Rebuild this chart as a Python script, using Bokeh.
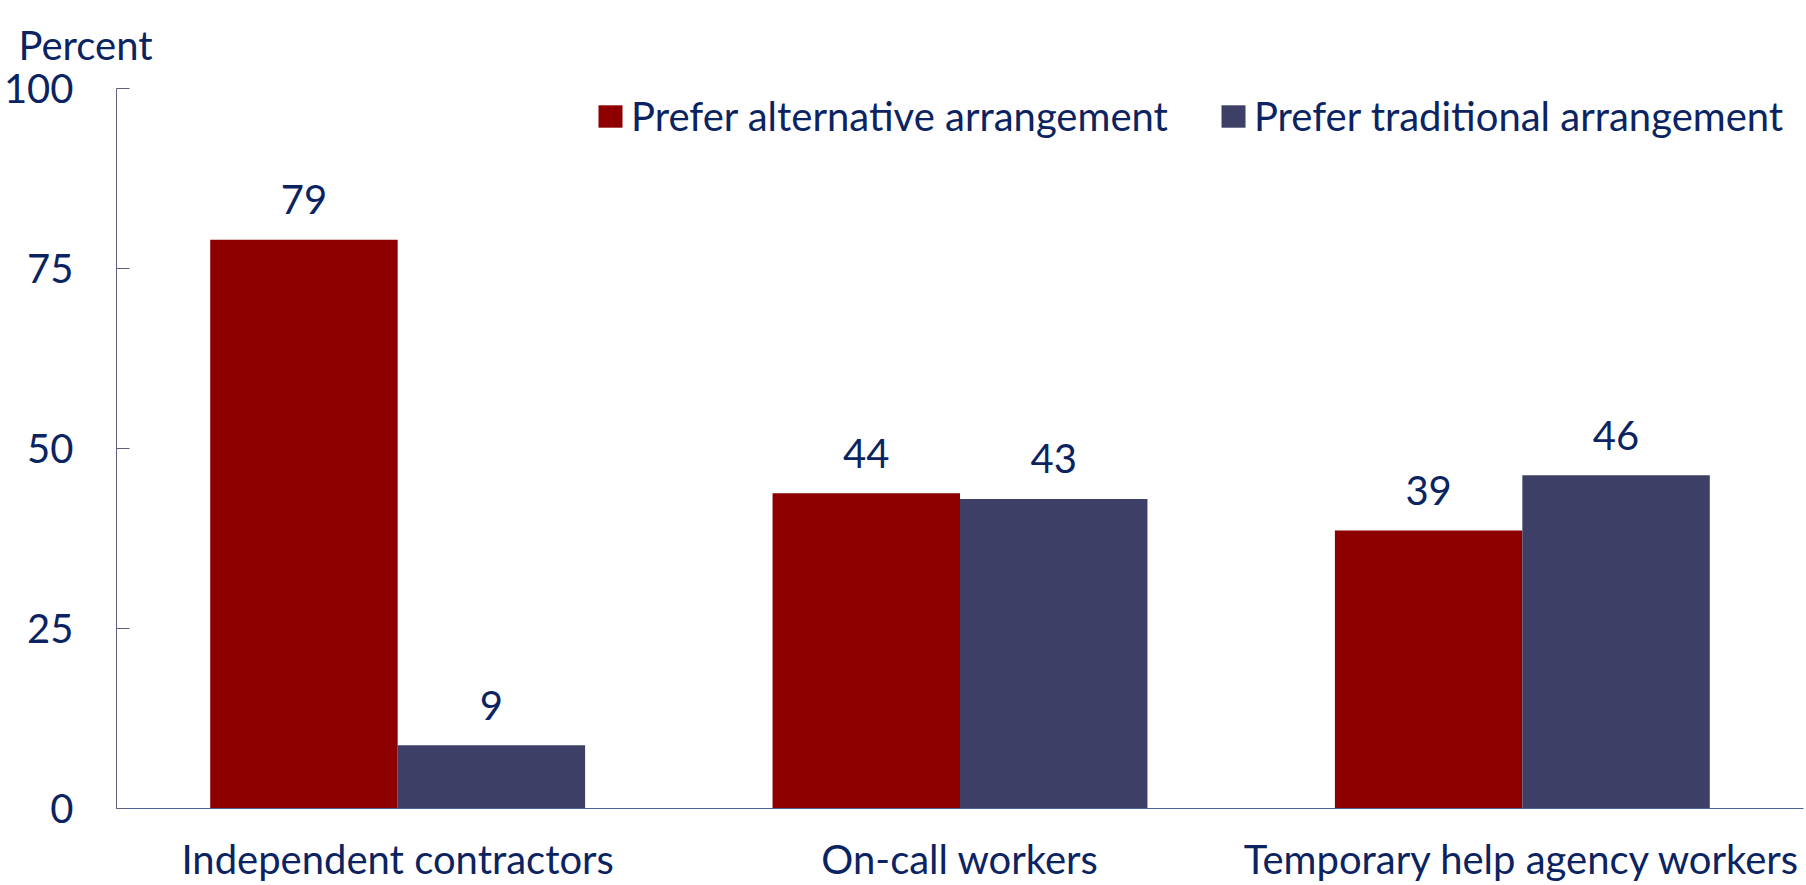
from bokeh.plotting import figure
from bokeh.models import FactorRange, Range1d, Legend, LegendItem, Title, ColumnDataSource
from bokeh.transform import dodge
from bokeh.core.properties import value
from bokeh.embed import file_html
from bokeh.resources import INLINE

categories = ["Independent contractors", "On-call workers", "Temporary help agency workers"]
series_names = ["Prefer alternative arrangement", "Prefer traditional arrangement"]
prefer_alternative = [79.0, 43.8, 38.6]
prefer_traditional = [8.8, 43.0, 46.3]
y_ticks = [0, 25, 50, 75, 100]
y_title = "Percent"

FONT = "Lato"
FS = "40px"
TXT = "#0B2461"
RED = "#8E0000"
BLUE = "#3D3F66"

src = ColumnDataSource(dict(
    cat=categories,
    alt=prefer_alternative,
    trad=prefer_traditional,
    alt_lbl=[f"{v:.0f}" for v in prefer_alternative],
    trad_lbl=[f"{v:.0f}" for v in prefer_traditional],
))

p = figure(x_range=FactorRange(*categories, range_padding=0), y_range=Range1d(0, 100),
           width=1806, height=885, output_backend="svg", toolbar_location=None,
           min_border_left=115, min_border_top=88, min_border_right=3, min_border_bottom=0)
p.outline_line_color = None
p.grid.visible = False

r1 = p.vbar(x=dodge("cat", -1/6, range=p.x_range), top="alt", width=1/3, source=src,
            fill_color=RED, line_color=None)
r2 = p.vbar(x=dodge("cat", 1/6, range=p.x_range), top="trad", width=1/3, source=src,
            fill_color=BLUE, line_color=None)

for xo, col, ycol in ((-1/6, "alt_lbl", "alt"), (1/6, "trad_lbl", "trad")):
    p.text(x=dodge("cat", xo, range=p.x_range), y=ycol,
           text=col, source=src, text_align="center", text_baseline="alphabetic",
           y_offset=-40, text_font=value(FONT), text_font_size=FS, text_color=TXT)

yax = p.yaxis[0]
yax.ticker = y_ticks
yax.major_tick_in = 13
yax.major_tick_out = 0
yax.minor_tick_line_color = None
yax.axis_line_color = "#5E5E7E"
yax.major_tick_line_color = "#5E5E7E"
yax.major_label_standoff = 43
yax.major_label_text_font = FONT
yax.major_label_text_font_size = FS
yax.major_label_text_color = TXT

xax = p.xaxis[0]
xax.major_tick_line_color = None
xax.minor_tick_line_color = None
xax.axis_line_color = "#4A62A0"
xax.major_label_standoff = 20
xax.major_label_text_font = FONT
xax.major_label_text_font_size = FS
xax.major_label_text_color = TXT

title = Title(text=y_title, align="left", offset=-98, standoff=36, vertical_align="top",
              text_font=FONT, text_font_size=FS, text_color=TXT, text_font_style="normal")
p.add_layout(title, "above")

legend = Legend(items=[LegendItem(label=series_names[0], renderers=[r1]),
                       LegendItem(label=series_names[1], renderers=[r2])],
                location=(479, 668), orientation="horizontal",
                label_text_font=FONT, label_text_font_size=FS, label_text_color=TXT,
                glyph_width=30, glyph_height=28, label_standoff=6, spacing=50,
                padding=2, margin=0, border_line_color=None, background_fill_alpha=0)
p.add_layout(legend)

open("out.html", "w").write(file_html(p, INLINE))
